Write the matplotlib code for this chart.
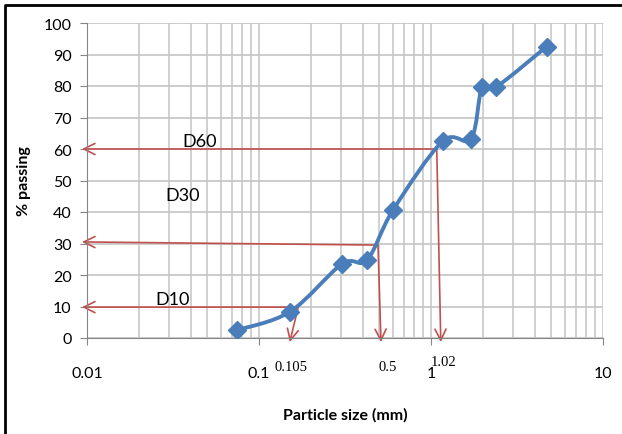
import numpy as np
from matplotlib import pyplot, rc
from matplotlib.lines import Line2D
from matplotlib.patches import PathPatch
from matplotlib.path import Path
from matplotlib.ticker import LogLocator, FixedLocator, NullFormatter

rc('font', family='Lato', size=11)

# grain size distribution
sizes = [0.0745, 0.151, 0.304, 0.425, 0.601, 1.17, 1.71, 1.98, 2.39, 4.70]
passing = [2.5, 8.3, 23.5, 24.8, 40.6, 62.5, 63.2, 79.7, 79.7, 92.5]

# D10 / D30 / D60 construction lines
d_names = ['D10', 'D30', 'D60']
d_corner_x = [0.169, 0.492, 1.08]
d_drop_x = [0.151, 0.512, 1.14]
d_corner_y = [9.8, 29.5, 60.0]
d_left_y = [9.8, 30.5, 60.0]
d_label_x = [0.0316, 0.0362, 0.0454]
d_label_y = [12.4, 45.4, 62.5]

# numbers written under the axis
note_text = ['0.105', '0.5', '1.02']
note_x = [0.153, 0.56, 1.18]
note_y = [-9.0, -9.0, -7.5]

blue = '#4a7ebb'
red = '#c0504d'
grey = '#868686'

figure = pyplot.figure(figsize=(6.22, 4.35), dpi=100)
plot = figure.add_axes([87 / 622, 1 - 339 / 435, 516 / 622, 315 / 435])
plot.set_xscale('log')
plot.set_xlim(0.01, 10)
plot.set_ylim(0, 100)

plot.xaxis.set_minor_locator(LogLocator(base=10, subs=np.arange(2, 10)))
plot.xaxis.set_minor_formatter(NullFormatter())
plot.set_xticks([0.01, 0.1, 1, 10])
plot.set_xticklabels(['0.01', '0.1', '1', '10'])
plot.yaxis.set_major_locator(FixedLocator(range(0, 101, 10)))

plot.grid(True, which='both', axis='x', color='#c8c8c8', lw=1.2)
plot.grid(True, which='major', axis='y', color='#c4c4c4', lw=1.2)
plot.set_axisbelow(True)
for side in ('top', 'right'):
    plot.spines[side].set_visible(False)
for side in ('left', 'bottom'):
    plot.spines[side].set_color(grey)
plot.tick_params(axis='x', which='major', length=5, color=grey, pad=15,
                 labelsize=11.5)
plot.tick_params(axis='x', which='minor', length=0)
plot.tick_params(axis='y', length=5, color=grey, pad=6, labelsize=11.5)

# construction arrows
arrow = dict(arrowstyle='->', color=red, lw=1.2, mutation_scale=20,
             shrinkA=0, shrinkB=0)
for cx, dx, cy, ly in zip(d_corner_x, d_drop_x, d_corner_y, d_left_y):
    plot.annotate('', xy=(0.00935, ly), xytext=(cx, cy), arrowprops=arrow,
                  annotation_clip=False, zorder=2)
    plot.annotate('', xy=(dx, -1.3), xytext=(cx, cy), arrowprops=arrow,
                  annotation_clip=False, zorder=2)

for name, x, y in zip(d_names, d_label_x, d_label_y):
    plot.text(x, y, name, fontsize=13, ha='center', va='center')

for t, x, y in zip(note_text, note_x, note_y):
    plot.text(x, y, t, family='Liberation Serif', fontsize=10.5,
              ha='center', va='center', clip_on=False)

# smoothed curve through the points, like a spreadsheet "smooth line"
px = (np.log10(sizes) + 2) * 172
py = np.array(passing) * 3.15
pts = np.column_stack([px, py])
verts = [pts[0]]
codes = [Path.MOVETO]
n = len(pts)
for i in range(n - 1):
    p0 = pts[max(i - 1, 0)]
    p1 = pts[i]
    p2 = pts[i + 1]
    p3 = pts[min(i + 2, n - 1)]
    verts += [p1 + (p2 - p0) / 6, p2 - (p3 - p1) / 6, p2]
    codes += [Path.CURVE4] * 3
verts = np.array(verts)
verts[:, 0] = 10 ** (verts[:, 0] / 172 - 2)
verts[:, 1] = verts[:, 1] / 3.15
plot.add_patch(PathPatch(Path(verts, codes), fill=False, edgecolor=blue,
                         lw=2.8, zorder=3, capstyle='round'))
plot.plot(sizes, passing, linestyle='none', marker='D', markersize=9.5,
          color=blue, zorder=4)

plot.set_xlabel('Particle size (mm)', fontweight='bold', fontsize=11.5,
                labelpad=20)
plot.set_ylabel('% passing', fontweight='bold', fontsize=11.5, labelpad=9)

# frame round the picture
figure.add_artist(Line2D([5 / 622, 5 / 622, 1.0], [0, 1 - 6 / 435, 1 - 6 / 435],
                         transform=figure.transFigure, color='black', lw=2))

figure.savefig('out.png', dpi=100)
